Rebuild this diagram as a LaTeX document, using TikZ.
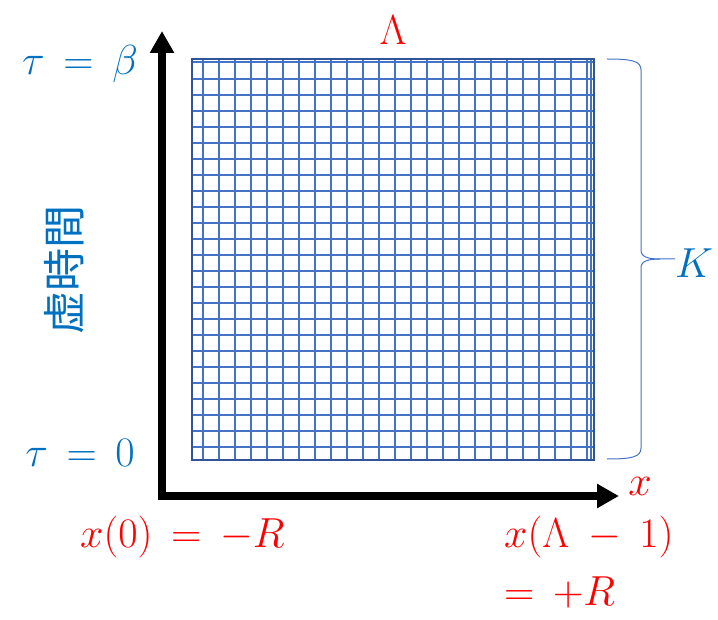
\RequirePackage{fix-cm}
\documentclass[tikz,border=0pt]{standalone}
\usepackage{fontspec}
\newfontfamily\cjk{Noto Sans CJK JP}
\usetikzlibrary{arrows.meta}
\definecolor{txtblue}{HTML}{0070C0}
\definecolor{gridblue}{HTML}{4472C4}
\definecolor{borderblue}{HTML}{2F5597}
\definecolor{txtred}{HTML}{FF0000}
\thickmuskip=8mu plus 2mu
\medmuskip=8mu plus 2mu
\tikzset{
  axis/.style={line width=8pt,-{Triangle[width=23pt,length=22pt]}},
  gridline/.style={gridblue,line width=1.7pt},
  bluelabel/.style={text=txtblue,font=\fontsize{42}{46}\selectfont,inner sep=0pt},
  redlabel/.style={text=txtred,font=\fontsize{42}{46}\selectfont,inner sep=0pt},
}
\begin{document}
\begin{tikzpicture}[x=1pt,y=-1pt]
\useasboundingbox (0,0) rectangle (718,620);
% grid
\foreach \k in {0,...,24} {\draw[gridline] (203.3+16*\k,59) -- (203.3+16*\k,460);}
\draw[gridline] (591,59) -- (591,460);
\draw[gridline] (192,62.3) -- (594,62.3);
\foreach \k in {0,...,23} {\draw[gridline] (192,78.7+16*\k) -- (594,78.7+16*\k);}
\draw[borderblue,line width=2.6pt] (192,59) rectangle (594,460);
\coordinate (gridNE) at (594,59);
% axes
\coordinate (origin) at (162,496);
\coordinate (yend) at (162,31);
\coordinate (xorig) at (158,496);
\coordinate (xend) at (619,496);
\draw[axis] (162,500) -- (yend);
\draw[axis] (xorig) -- (xend);
% brace
\coordinate (bt) at (607,59);
\coordinate (bb) at (607,459);
\coordinate (btip) at (675,259);
\draw[gridblue,line width=1pt] (bt) .. controls (632,59) and (641,61) .. (641,70)
  -- (641,250) .. controls (641,257) and (648,259) .. (660,259) -- (btip);
\draw[gridblue,line width=1pt] (bb) .. controls (632,459) and (641,457) .. (641,448)
  -- (641,268) .. controls (641,261) and (648,259) .. (660,259);
% labels
\node[bluelabel] (taub) at (80,64) {$\tau=\beta$};
\node[bluelabel] (tau0) at (80,453) {$\tau=0$};
\node[bluelabel,anchor=west] (K) at (675,263) {$K$};
\node[text=txtblue,inner sep=0pt,rotate=90,font=\cjk\fontsize{43}{48}\selectfont] (imag) at (64,270) {虚時間};
\node[redlabel] (Lam) at (393,30) {$\Lambda$};
\node[redlabel] (xl) at (640,486) {$x$};
\node[redlabel,anchor=west] (x0) at (80,537) {$x(0)=-R$};
\node[redlabel,anchor=west] (xL) at (504,537) {$x(\Lambda-1)$};
\node[redlabel,anchor=west] (xR) at (504,592) {$=+R$};
\end{tikzpicture}
\end{document}
